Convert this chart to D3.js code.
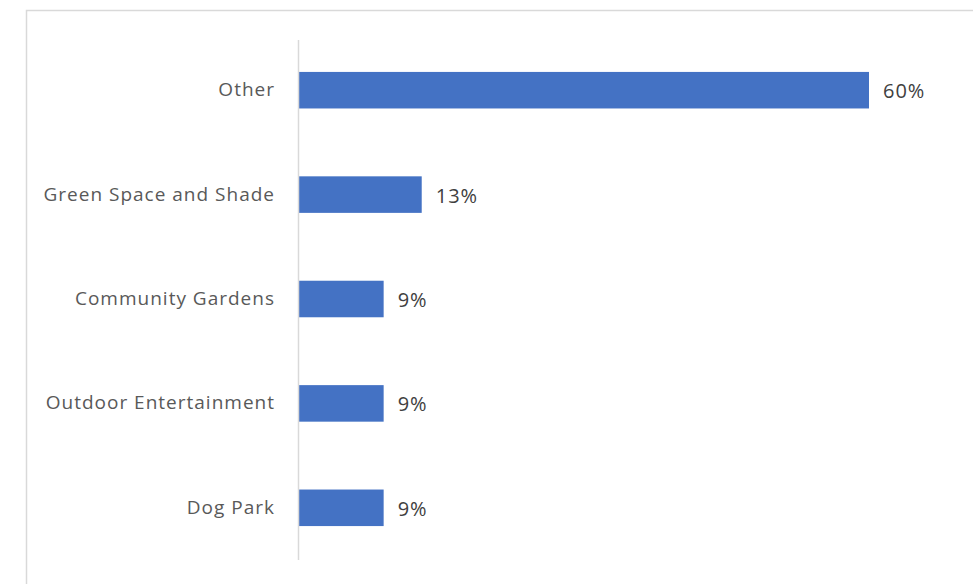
<!DOCTYPE html>
<html>
<head>
<meta charset="utf-8">
<script src="https://cdn.jsdelivr.net/npm/d3@7"></script>
<style>
  html, body { margin: 0; padding: 0; background: #fff; }
  svg { display: block; }
</style>
</head>
<body>
<svg id="chart" width="975" height="584"></svg>
<script>
const categories = ["Other", "Green Space and Shade", "Community Gardens", "Outdoor Entertainment", "Dog Park"];
const values = [0.60, 0.13, 0.09, 0.09, 0.09];
const valueLabels = ["60%", "13%", "9%", "9%", "9%"];

const svg = d3.select("#chart");
const W = 975, H = 584;

// chart frame
svg.append("path")
  .attr("d", `M26.5,${H + 2} V10.5 H973`)
  .attr("fill", "none")
  .attr("stroke", "#d9d9d9")
  .attr("stroke-width", 1.5);

const x = d3.scaleLinear().domain([0, 0.6]).range([298, 869]);
const y = d3.scaleBand().domain(categories).range([38, 560])
  .paddingInner(0.65).paddingOuter(0.325);

const font = "'Open Sans', 'Liberation Sans', sans-serif";

svg.append("g").selectAll("rect")
  .data(categories)
  .join("rect")
  .attr("x", x(0))
  .attr("y", d => y(d))
  .attr("width", (d, i) => x(values[i]) - x(0))
  .attr("height", y.bandwidth())
  .attr("fill", "#4472c4");

// category axis
const yAxis = d3.axisLeft(y).tickSize(0).tickPadding(23);
const gy = svg.append("g").attr("transform", `translate(${x(0)},0)`).call(yAxis);
gy.select(".domain").attr("stroke", "#d9d9d9").attr("stroke-width", 1.5)
  .attr("d", `M0.5,40V560`);
gy.selectAll("text")
  .attr("font-family", font)
  .attr("font-size", 19)
  .attr("letter-spacing", "1px")
  .attr("fill", "#595959");

// value labels
svg.append("g").selectAll("text")
  .data(categories)
  .join("text")
  .attr("x", (d, i) => x(values[i]) + 14)
  .attr("y", d => y(d) + y.bandwidth() / 2 + 1)
  .attr("dy", "0.35em")
  .attr("font-family", font)
  .attr("font-size", 20)
  .attr("letter-spacing", "1px")
  .attr("fill", "#404040")
  .text((d, i) => valueLabels[i]);
</script>
</body>
</html>
